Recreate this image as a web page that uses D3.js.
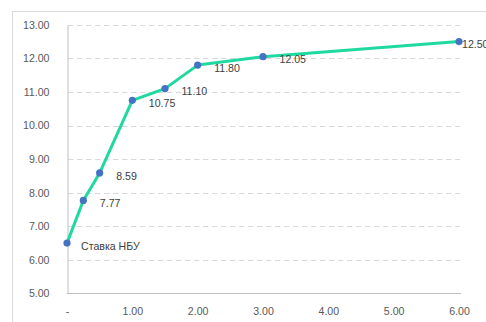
<!DOCTYPE html>
<html>
<head>
<meta charset="utf-8">
<script src="https://cdn.jsdelivr.net/npm/d3@7"></script>
<style>
  html, body { margin: 0; padding: 0; background: #fff; }
  svg { display: block; }
  text { font-family: "Liberation Sans", Arial, sans-serif; }
</style>
</head>
<body>
<script>
// Yield curve: term (years) vs rate (%)
const terms = [0, 0.25, 0.5, 1.0, 1.5, 2.0, 3.0, 6.0];
const rates = [6.50, 7.77, 8.59, 10.75, 11.10, 11.80, 12.05, 12.50];
const pointLabels = ["Ставка НБУ", "7.77", "8.59", "10.75", "11.10", "11.80", "12.05", "12.50"];
const xTicks = [0, 1, 2, 3, 4, 5, 6];
const yTicks = [5, 6, 7, 8, 9, 10, 11, 12, 13];

const W = 486, H = 322;
const svg = d3.select("body").append("svg").attr("width", W).attr("height", H);

// chart area frame (extends past the visible page on right/bottom)
svg.append("rect")
  .attr("x", 12.5).attr("y", 11.5)
  .attr("width", 700).attr("height", 500)
  .attr("fill", "#fff").attr("stroke", "#d9d9d9").attr("stroke-width", 1);

const x = d3.scaleLinear().domain([0, 6]).range([67, 459]);
const y = d3.scaleLinear().domain([5, 13]).range([293.5, 24.8]);

// dashed horizontal gridlines
svg.append("g")
  .selectAll("line")
  .data(yTicks.filter(v => v > 5))
  .join("line")
  .attr("x1", 68).attr("x2", 460)
  .attr("y1", d => Math.round(y(d)) + 0.5).attr("y2", d => Math.round(y(d)) + 0.5)
  .attr("stroke", "#d9d9d9").attr("stroke-width", 1)
  .attr("stroke-dasharray", "5.5,3.5");

// y axis
const yAxis = d3.axisLeft(y).tickValues(yTicks).tickFormat(d3.format(".2f")).tickSize(0).tickPadding(18);
const gy = svg.append("g").attr("transform", "translate(67.5,0)").call(yAxis);
gy.select(".domain").attr("stroke", "#bfbfbf");
gy.selectAll("text").attr("fill", "#595959").attr("font-size", "10.6px");

// x axis
const xAxis = d3.axisBottom(x).tickValues(xTicks)
  .tickFormat(d => d === 0 ? "-" : d3.format(".2f")(d)).tickSize(0).tickPadding(14);
const gx = svg.append("g").attr("transform", "translate(0,293.5)").call(xAxis);
gx.select(".domain").attr("stroke", "#bfbfbf").attr("d", "M67,0H461");
gx.selectAll("text").attr("fill", "#595959").attr("font-size", "10.6px");

const pts = terms.map((t, i) => ({ t, r: rates[i], label: pointLabels[i] }));

// curve
svg.append("path")
  .datum(pts)
  .attr("fill", "none")
  .attr("stroke", "#1fd9a0")
  .attr("stroke-width", 3)
  .attr("stroke-linejoin", "round")
  .attr("d", d3.line().x(d => x(d.t)).y(d => y(d.r)));

// markers
svg.append("g")
  .selectAll("circle")
  .data(pts)
  .join("circle")
  .attr("cx", d => x(d.t)).attr("cy", d => y(d.r))
  .attr("r", 3.6)
  .attr("fill", "#4472c4");

// value labels to the right of each point
svg.append("g")
  .selectAll("text")
  .data(pts)
  .join("text")
  .attr("x", (d, i) => x(d.t) + (i === 0 ? 14 : i === pts.length - 1 ? 3 : 16.5))
  .attr("y", d => y(d.r) + 3)
  .attr("dy", "0.35em")
  .attr("fill", "#404040")
  .attr("font-size", "10.6px")
  .text(d => d.label);
</script>
</body>
</html>
